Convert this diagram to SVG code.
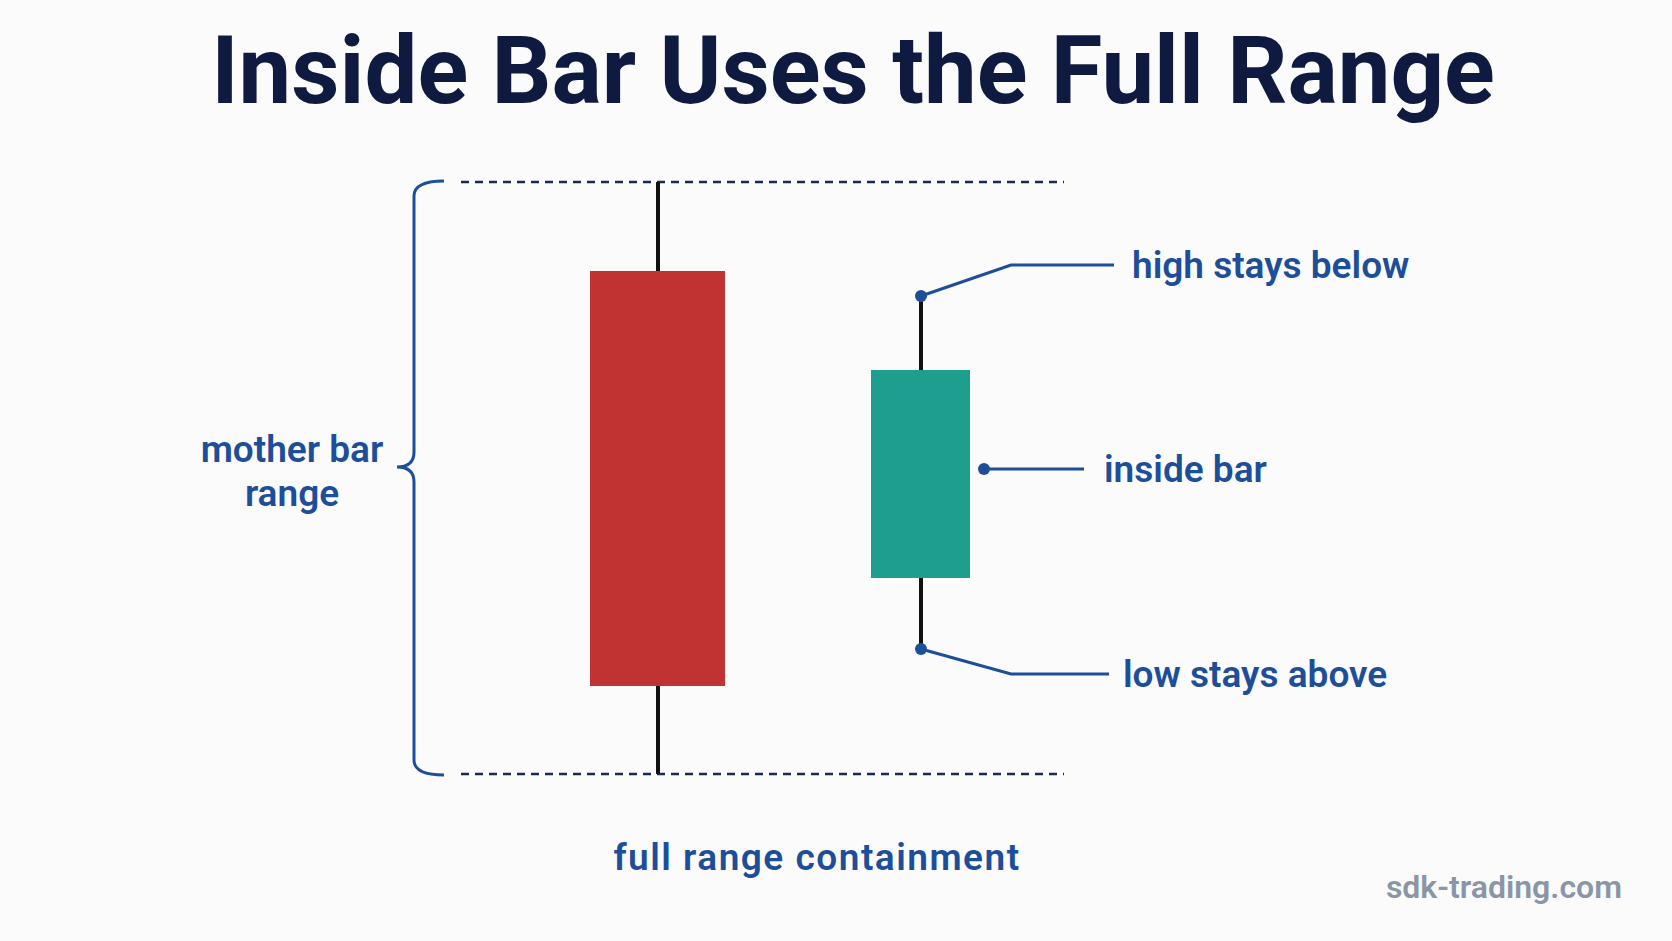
<svg xmlns="http://www.w3.org/2000/svg" width="1672" height="941" viewBox="0 0 1672 941">
<style>
.lbl{font-family:Roboto,"Noto Sans",sans-serif;font-weight:600;fill:#1d4e9a;font-size:37px}
.ln{stroke:#1d4e9a;stroke-width:3;fill:none}
.dash{stroke:#1b2a55;stroke-width:2.5;stroke-dasharray:8 6}
.wick{stroke:#111;stroke-width:4}
</style>
<rect width="1672" height="941" fill="#fbfbfb"/>
<text x="853" y="103" text-anchor="middle" font-family="Roboto,'Noto Sans',sans-serif" font-weight="700" font-size="94" fill="#0f1a40">Inside Bar Uses the Full Range</text>
<g id="connectors">
<line class="dash" x1="461" y1="182" x2="1064" y2="182"/>
<line class="dash" x1="461" y1="774" x2="1064" y2="774"/>
<path class="ln" d="M444 181 Q414 181 414 196 L414 452 Q414 467 397 467 Q414 467 414 482 L414 760 Q414 775 444 775"/>
<polyline class="ln" points="921,296 1011,265 1114,265"/>
<polyline class="ln" points="984,469 1084,469"/>
<polyline class="ln" points="921,649 1011,674 1109,674"/>
</g>
<g id="mother-bar">
<line class="wick" x1="658" y1="182" x2="658" y2="774"/>
<rect x="590" y="271" width="135" height="415" fill="#c13333"/>
</g>
<g id="inside-bar">
<line class="wick" x1="921" y1="296" x2="921" y2="649"/>
<rect x="871" y="370" width="99" height="208" fill="#1e9e8c"/>
</g>
<g id="dots" fill="#1d4e9a">
<circle cx="921" cy="296" r="6"/><circle cx="984" cy="469" r="6"/><circle cx="921" cy="649" r="6"/>
</g>
<g id="mother-label"><text class="lbl" x="292" y="462" text-anchor="middle">mother bar</text><text class="lbl" x="292" y="506" text-anchor="middle">range</text></g>
<g id="high-label"><text class="lbl" x="1132" y="278">high stays below</text></g>
<g id="inside-label"><text class="lbl" x="1104" y="482">inside bar</text></g>
<g id="low-label"><text class="lbl" x="1123" y="687">low stays above</text></g>
<g id="footer"><text class="lbl" x="817" y="870" text-anchor="middle" font-size="42" letter-spacing="1.5">full range containment</text></g>
<text x="1622" y="898" text-anchor="end" font-family="Roboto,'Noto Sans',sans-serif" font-weight="600" font-size="32" fill="#8a95a8">sdk-trading.com</text>
</svg>
